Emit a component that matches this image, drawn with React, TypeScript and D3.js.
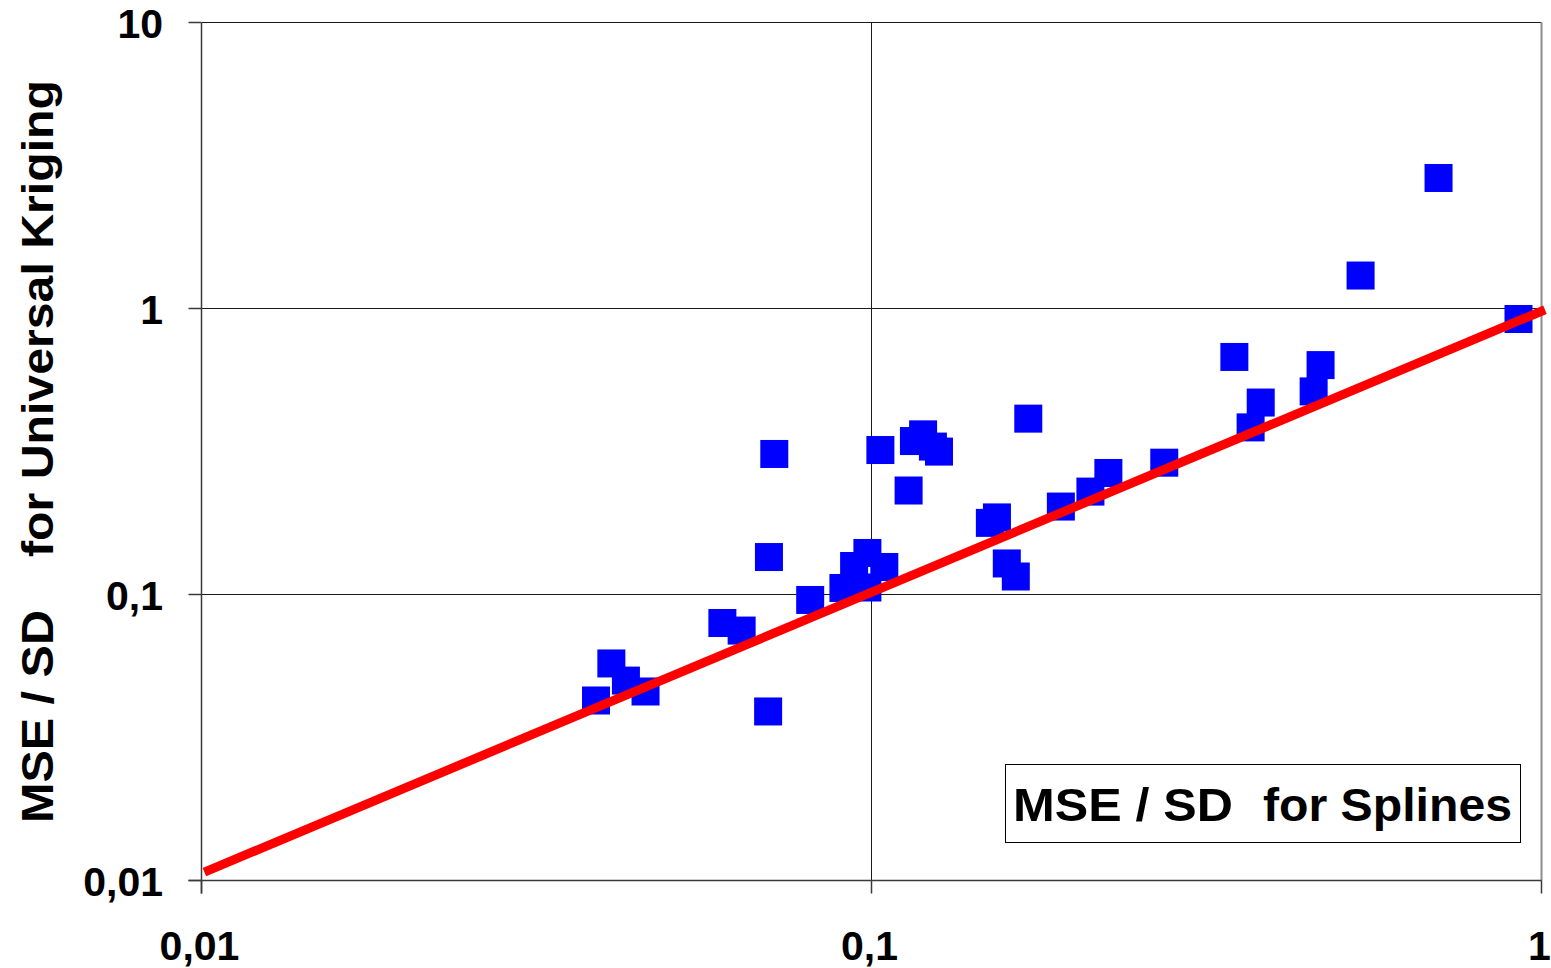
import * as d3 from "d3";
import React from "react";

// MSE/SD for splines (x) vs MSE/SD for universal kriging (y)
const splinesX = [
  0.702, 0.537, 0.924, 0.348, 0.468, 0.457, 0.381, 0.368, 0.2735, 0.2257,
  0.2122, 0.1917, 0.1714, 0.1539, 0.1502, 0.1592, 0.1642, 0.1136, 0.1031, 0.1157,
  0.1194, 0.1235, 0.1261, 0.0716, 0.0703, 0.081, 0.0986, 0.0942, 0.1045, 0.0908,
  0.0986, 0.0599, 0.064, 0.0409, 0.043, 0.0388, 0.046, 0.0701,
];
const krigingY = [
  2.86, 1.304, 0.919, 0.677, 0.634, 0.513, 0.469, 0.384, 0.289, 0.266,
  0.229, 0.203, 0.412, 0.186, 0.178, 0.1284, 0.1156, 0.231, 0.32, 0.344,
  0.363, 0.329, 0.316, 0.31, 0.1352, 0.0957, 0.1397, 0.1258, 0.1248, 0.1054,
  0.1058, 0.0795, 0.0748, 0.0574, 0.05, 0.0426, 0.0458, 0.039,
];

// reference line
const lineX = [0.0101, 1.012];
const lineY = [0.0107, 0.99];

const xTicks = [0.01, 0.1, 1];
const xTickLabels = ["0,01", "0,1", "1"];
const yTicks = [0.01, 0.1, 1, 10];
const yTickLabels = ["0,01", "0,1", "1", "10"];

const font = "'Liberation Sans', Arial, sans-serif";

const App: React.FC = () => {
  const width = 1551;
  const height = 968;

  const x = d3.scaleLog().domain([0.01, 1]).range([201.5, 1541.5]);
  const y = d3.scaleLog().domain([0.01, 10]).range([880.5, 22.5]);

  const points = splinesX.map((v, i) => ({ x: v, y: krigingY[i] }));
  const line = d3
    .line<number>()
    .x(d => x(d))
    .y((_, i) => y(lineY[i]));

  const size = 28;

  return (
    <svg
      width={width}
      height={height}
      style={{ position: "absolute", left: 0, top: 0, display: "block", background: "#fff" }}
    >
      {/* gridlines */}
      {yTicks.map(t => (
        <line key={"gy" + t} x1={x(0.01)} x2={x(1)} y1={y(t)} y2={y(t)} stroke="#1a1a1a" strokeWidth={1} />
      ))}
      <line x1={x(0.1)} x2={x(0.1)} y1={y(10)} y2={y(0.01)} stroke="#1a1a1a" strokeWidth={1} />
      {/* right border */}
      <line x1={x(1)} x2={x(1)} y1={y(10)} y2={y(0.01)} stroke="#8c8c8c" strokeWidth={2} />

      {/* axes */}
      <line x1={x(0.01)} x2={x(0.01)} y1={y(10)} y2={y(0.01) + 13} stroke="#3a3a3a" strokeWidth={1.5} />
      <line x1={x(0.01) - 13} x2={x(1)} y1={y(0.01)} y2={y(0.01)} stroke="#3a3a3a" strokeWidth={1.5} />
      {yTicks.map(t => (
        <line key={"ty" + t} x1={x(0.01) - 13} x2={x(0.01)} y1={y(t)} y2={y(t)} stroke="#3a3a3a" strokeWidth={1.5} />
      ))}
      {xTicks.map(t => (
        <line key={"tx" + t} x1={x(t)} x2={x(t)} y1={y(0.01)} y2={y(0.01) + 13} stroke="#3a3a3a" strokeWidth={1.5} />
      ))}

      {/* tick labels */}
      {yTicks.map((t, i) => (
        <text
          key={"ly" + t}
          x={163}
          y={y(t) + 15}
          textAnchor="end"
          fontFamily={font}
          fontWeight="bold"
          fontSize={41}
        >
          {yTickLabels[i]}
        </text>
      ))}
      {xTicks.map((t, i) => (
        <text
          key={"lx" + t}
          x={i === xTicks.length - 1 ? x(t) - 2 : x(t) - 2}
          y={960}
          textAnchor="middle"
          fontFamily={font}
          fontWeight="bold"
          fontSize={41}
        >
          {xTickLabels[i]}
        </text>
      ))}

      {/* points */}
      {points.map((p, i) => (
        <rect
          key={"p" + i}
          x={x(p.x) - size / 2}
          y={y(p.y) - size / 2}
          width={size}
          height={size}
          fill="#0000ff"
        />
      ))}

      {/* y = x line */}
      <path d={line(lineX) ?? ""} fill="none" stroke="#ff0000" strokeWidth={9} />

      {/* y-axis title */}
      <g transform="translate(53,0) rotate(-90)">
        <text x={-823} y={0} fontFamily={font} fontWeight="bold" fontSize={44} textLength={213} lengthAdjust="spacingAndGlyphs">
          MSE / SD
        </text>
        <text x={-557} y={0} fontFamily={font} fontWeight="bold" fontSize={44} textLength={477} lengthAdjust="spacingAndGlyphs">
          for Universal Kriging
        </text>
      </g>

      {/* x-axis title box */}
      <rect x={1005.5} y={764.5} width={515} height={78} fill="#fff" stroke="#000" strokeWidth={1} />
      <text x={1013} y={821} fontFamily={font} fontWeight="bold" fontSize={47} textLength={220} lengthAdjust="spacingAndGlyphs">
        MSE / SD
      </text>
      <text x={1263} y={821} fontFamily={font} fontWeight="bold" fontSize={47} textLength={249} lengthAdjust="spacingAndGlyphs">
        for Splines
      </text>
    </svg>
  );
};

export default App;
